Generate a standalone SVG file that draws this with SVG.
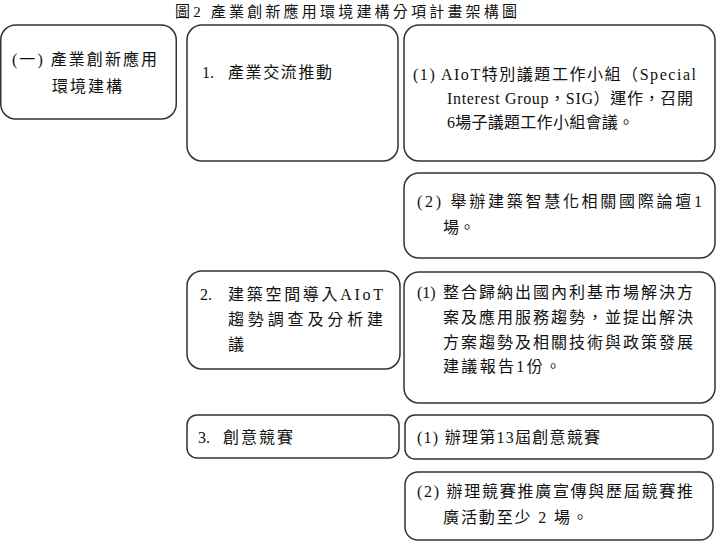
<svg xmlns="http://www.w3.org/2000/svg" width="722" height="555" viewBox="0 0 722 555">
<style>
.box{fill:#fff;stroke:#333;stroke-width:1.5}
text{font-family:"Liberation Serif","Noto Sans CJK TC",serif;font-size:16px;fill:#111}
.title{font-size:15px}
</style>
<rect width="722" height="555" fill="#fff"/>
<text class="title" x="175" y="17" textLength="342" lengthAdjust="spacing">圖2 產業創新應用環境建構分項計畫架構圖</text>

<g id="n0">
<rect class="box" x="0.75" y="25" width="175.5" height="94" rx="15"/>
<text x="12" y="65" textLength="145" lengthAdjust="spacing">(一) 產業創新應用</text>
<text x="52" y="92" textLength="70" lengthAdjust="spacing">環境建構</text>
</g>

<g id="n1">
<rect class="box" x="187" y="25" width="211" height="136" rx="15"/>
<text x="202" y="78">1.</text>
<text x="228" y="78" textLength="104" lengthAdjust="spacing">產業交流推動</text>
</g>

<g id="n1a">
<rect class="box" x="404" y="25" width="311" height="136" rx="15"/>
<text x="413" y="80" textLength="283" lengthAdjust="spacing">(1) AIoT特別議題工作小組（Special</text>
<text x="447" y="104" textLength="246" lengthAdjust="spacing">Interest Group，SIG）運作，召開</text>
<text x="447" y="128" textLength="187" lengthAdjust="spacing">6場子議題工作小組會議。</text>
</g>

<g id="n1b">
<rect class="box" x="404" y="173" width="311" height="85" rx="15"/>
<text x="417" y="207" textLength="285" lengthAdjust="spacing">(2) 舉辦建築智慧化相關國際論壇1</text>
<text x="443" y="233">場。</text>
</g>

<g id="n2">
<rect class="box" x="187" y="271" width="213" height="98" rx="15"/>
<text x="200" y="300">2.</text>
<text x="228" y="300" textLength="155" lengthAdjust="spacing">建築空間導入AIoT</text>
<text x="228" y="325" textLength="155" lengthAdjust="spacing">趨勢調查及分析建</text>
<text x="228" y="350">議</text>
</g>

<g id="n2a">
<rect class="box" x="404" y="272" width="311" height="131" rx="15"/>
<text x="417" y="298">(1)</text>
<text x="443" y="298" textLength="250" lengthAdjust="spacing">整合歸納出國內利基市場解決方</text>
<text x="443" y="323" textLength="250" lengthAdjust="spacing">案及應用服務趨勢，並提出解決</text>
<text x="443" y="348" textLength="250" lengthAdjust="spacing">方案趨勢及相關技術與政策發展</text>
<text x="443" y="372" textLength="118" lengthAdjust="spacing">建議報告1份。</text>
</g>

<g id="n3">
<rect class="box" x="187" y="415" width="212" height="43" rx="10"/>
<text x="198" y="443">3.</text>
<text x="223" y="443" textLength="70" lengthAdjust="spacing">創意競賽</text>
</g>

<g id="n3a">
<rect class="box" x="405" y="415" width="308" height="44" rx="10"/>
<text x="417" y="443" textLength="183" lengthAdjust="spacing">(1) 辦理第13屆創意競賽</text>
</g>

<g id="n3b">
<rect class="box" x="405" y="472" width="308" height="68" rx="13"/>
<text x="417" y="497" textLength="276" lengthAdjust="spacing">(2) 辦理競賽推廣宣傳與歷屆競賽推</text>
<text x="443" y="523" textLength="145" lengthAdjust="spacing">廣活動至少 2 場。</text>
</g>
</svg>
